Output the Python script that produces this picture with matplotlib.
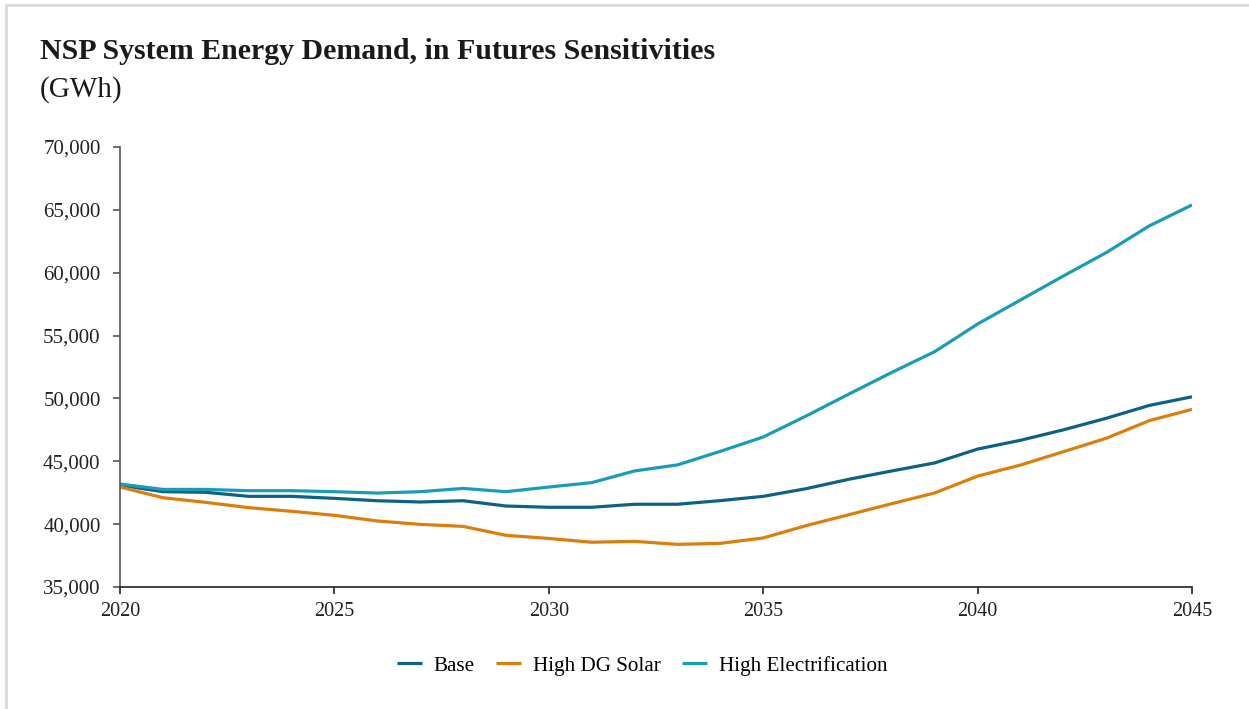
import matplotlib
matplotlib.use('Agg')
from matplotlib import pyplot as plt
from matplotlib.patches import Rectangle
from matplotlib.ticker import FuncFormatter

years = list(range(2020, 2046))
base = [43100, 42580, 42530, 42210, 42210, 42050, 41860, 41760, 41860, 41440,
        41340, 41340, 41580, 41580, 41870, 42210, 42820, 43570, 44230, 44870,
        45970, 46670, 47500, 48420, 49440, 50130]
high_dg_solar = [42950, 42100, 41730, 41310, 41020, 40700, 40250, 39980, 39820, 39110,
                 38860, 38560, 38630, 38390, 38470, 38900, 39880, 40750, 41630, 42480,
                 43820, 44700, 45760, 46830, 48230, 49130]
high_elec = [43190, 42760, 42760, 42660, 42660, 42580, 42470, 42580, 42840, 42580,
             42950, 43300, 44230, 44710, 45790, 46930, 48600, 50350, 52070, 53720,
             55920, 57830, 59740, 61600, 63720, 65390]

names = ['Base', 'High DG Solar', 'High Electrification']
colors = ['#0B6285', '#DB7E0C', '#1A9CB9']

plt.rcParams['font.family'] = ['Liberation Serif', 'DejaVu Serif']

fig = plt.figure(figsize=(12.49, 7.09), dpi=100)
ax = fig.add_axes([0.0961, 0.1721, 0.8583, 0.6206])

for vals, name, c in zip([base, high_dg_solar, high_elec], names, colors):
    ax.plot(years, vals, color=c, lw=2.3, label=name, solid_capstyle='butt')

ax.set_xlim(2020, 2045)
ax.set_ylim(35000, 70000)
ax.set_xticks(range(2020, 2046, 5))
ax.set_yticks(range(35000, 70001, 5000))
ax.yaxis.set_major_formatter(FuncFormatter(lambda v, p: f'{int(v):,}'))
ax.tick_params(axis='x', labelsize=14.5, colors='#222222', length=5, width=1.2, pad=6)
ax.tick_params(axis='y', labelsize=15, colors='#555555', labelcolor='#222222',
               length=5, width=1.2, pad=9)
for s in ['top', 'right']:
    ax.spines[s].set_visible(False)
ax.spines['left'].set_color('#555555')
ax.spines['bottom'].set_color('#222222')
ax.spines['left'].set_linewidth(1.2)
ax.spines['bottom'].set_linewidth(1.2)

fig.text(0.032, 0.927, 'NSP System Energy Demand, in Futures Sensitivities',
         fontsize=21.5, fontweight='bold', color='#1a1a1a', va='center')
fig.text(0.032, 0.874, '(GWh)', fontsize=21, color='#1a1a1a', va='center')

fig.legend(loc='center', bbox_to_anchor=(0.514, 0.061), ncol=3, frameon=False,
           fontsize=15.2, handlelength=1.2, columnspacing=1.0, handletextpad=0.55)

fig.patches.append(Rectangle((0.005, -0.1), 1.2, 1.093, transform=fig.transFigure,
                             fill=False, edgecolor='#d9d9d9', lw=2))

fig.savefig('out.png', dpi=100)
